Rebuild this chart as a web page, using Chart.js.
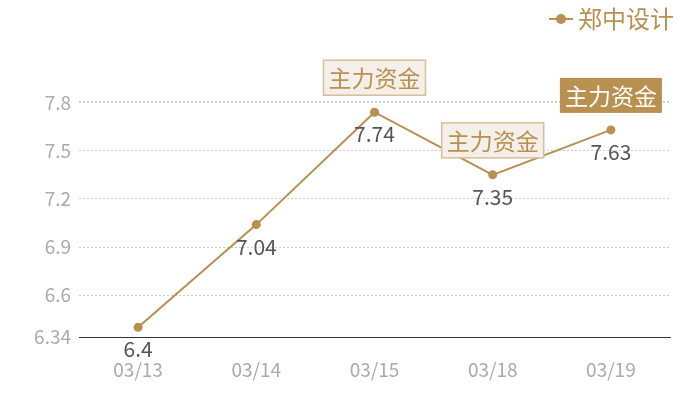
<!DOCTYPE html>
<html>
<head>
<meta charset="utf-8">
<script src="https://cdn.jsdelivr.net/npm/chart.js@4"></script>
<style>
  html, body { margin: 0; padding: 0; background: #fff; }
</style>
</head>
<body>
<canvas id="lineChart" width="700" height="400"></canvas>
<script>
// chart data
const dates = ['03/13', '03/14', '03/15', '03/18', '03/19'];
const prices = [6.4, 7.04, 7.74, 7.35, 7.63];
const yTicks = [6.34, 6.6, 6.9, 7.2, 7.5, 7.8];
const seriesName = '郑中设计';
const markLabel = '主力资金';
const markIndexes = [2, 3, 4];
const markFilled = [false, false, true];

const gold = '#b8904f';
const fontFam = '"Noto Sans CJK SC", "Noto Sans", sans-serif';

// value labels under each point + the "主力资金" boxes + legend
const extras = {
    id: 'extras',
    afterDatasetsDraw(chart) {
        const ctx = chart.ctx;
        const meta = chart.getDatasetMeta(0);
        ctx.save();
        ctx.font = '21px ' + fontFam;
        ctx.fillStyle = '#555';
        ctx.textAlign = 'center';
        ctx.textBaseline = 'middle';
        meta.data.forEach((pt, i) => {
            ctx.fillText(String(prices[i]), pt.x, pt.y + 22);
        });

        ctx.font = '23px ' + fontFam;
        markIndexes.forEach((idx, k) => {
            const pt = meta.data[idx];
            const w = 102, h = 35;
            const x = pt.x - w / 2, y = pt.y - 17 - h;
            if (markFilled[k]) {
                ctx.fillStyle = gold;
                ctx.fillRect(x, y, w, h);
                ctx.fillStyle = '#fff';
            } else {
                ctx.fillStyle = '#f4efe8';
                ctx.fillRect(x, y, w, h);
                ctx.strokeStyle = '#d8bf98';
                ctx.lineWidth = 1.5;
                ctx.strokeRect(x, y, w, h);
                ctx.fillStyle = gold;
            }
            ctx.fillText(markLabel, pt.x, y + h / 2 + 1);
        });

        // legend
        ctx.strokeStyle = gold;
        ctx.lineWidth = 2;
        ctx.beginPath();
        ctx.moveTo(549, 19);
        ctx.lineTo(573, 19);
        ctx.stroke();
        ctx.fillStyle = gold;
        ctx.beginPath();
        ctx.arc(561, 19, 5, 0, Math.PI * 2);
        ctx.fill();
        ctx.font = '24px ' + fontFam;
        ctx.textAlign = 'left';
        ctx.fillText(seriesName, 578, 19);
        ctx.restore();
    }
};

new Chart(document.getElementById('lineChart'), {
    type: 'line',
    data: {
        labels: dates,
        datasets: [{
            label: seriesName,
            data: prices,
            borderColor: gold,
            backgroundColor: gold,
            borderWidth: 2,
            pointRadius: 4.5,
            pointBackgroundColor: gold,
            pointBorderWidth: 0,
            tension: 0
        }]
    },
    options: {
        responsive: false,
        animation: false,
        devicePixelRatio: 1,
        layout: { padding: { top: 101, right: 30, left: 0, bottom: 0 } },
        plugins: {
            legend: { display: false },
            tooltip: { enabled: false }
        },
        scales: {
            x: {
                offset: true,
                grid: { display: false, drawTicks: false },
                border: { color: '#333', width: 1 },
                ticks: { color: '#aaa', font: { size: 19, family: fontFam }, padding: 21 },
                afterFit(s) { s.height = 63; }
            },
            y: {
                min: 6.34,
                max: 7.81,
                afterBuildTicks(s) {
                    s.ticks = yTicks.map(v => ({ value: v })).concat([{ value: 7.81 }]);
                },
                grid: { color: '#ccc', drawTicks: false },
                border: { display: false, dash: [2, 2] },
                ticks: {
                    color: '#aaa',
                    font: { size: 19, family: fontFam },
                    padding: 8,
                    callback: v => (yTicks.includes(v) ? String(v) : '')
                },
                afterFit(s) { s.width = 79; }
            }
        }
    },
    plugins: [extras]
});
</script>
</body>
</html>
